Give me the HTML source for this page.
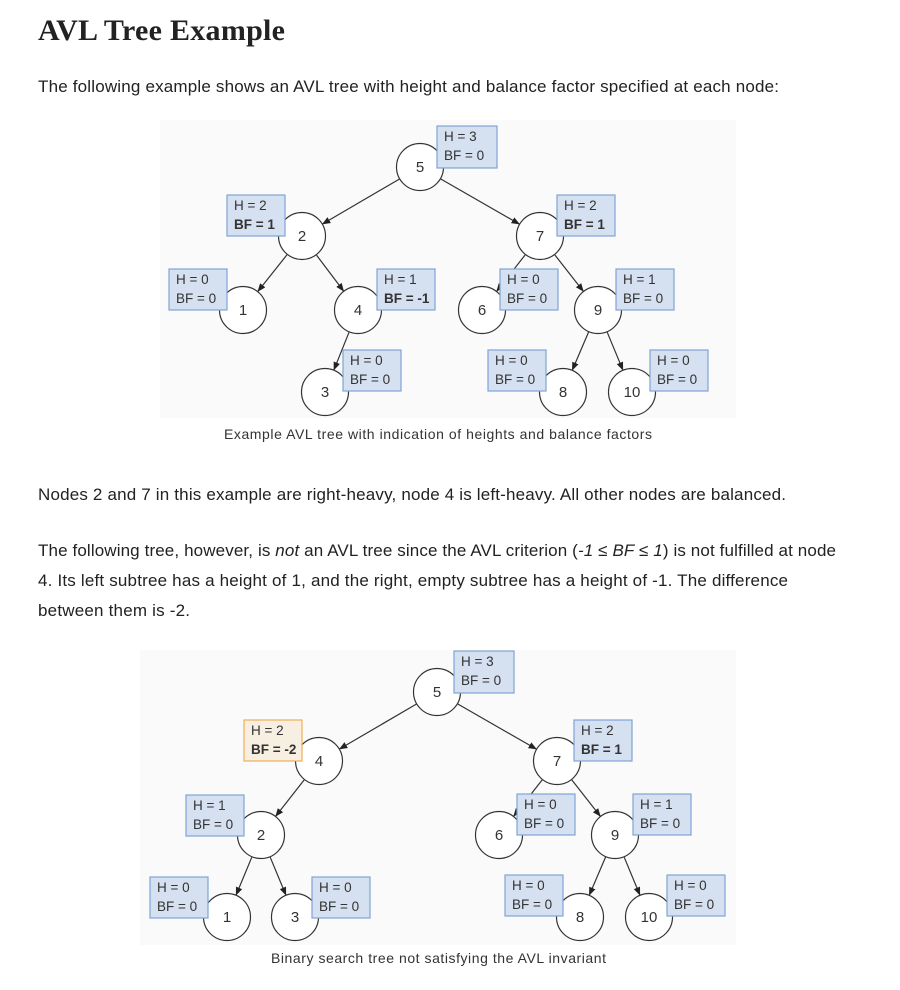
<!DOCTYPE html>
<html><head><meta charset="utf-8"><style>
html,body{margin:0;padding:0;background:#fff;}
svg{display:block;}
.t{font-family:"Liberation Sans",sans-serif;fill:#222;font-size:17px;}
.b{font-family:"Liberation Sans",sans-serif;fill:#333;font-size:13.5px;}
.cap{font-family:"Liberation Sans",sans-serif;fill:#333;font-size:14px;}
.n{font-family:"Liberation Sans",sans-serif;fill:#333;font-size:15px;text-anchor:middle;}
.e{stroke:#333;stroke-width:1.2;marker-end:url(#a);}
.c{fill:#fff;stroke:#333;stroke-width:1.2;}
.bx{fill:#d5e0f1;stroke:#7fa4d4;stroke-width:1.2;}
.ob{fill:#f7efe1;stroke:#f0ad55;stroke-width:1.2;}
</style></head><body>
<svg width="900" height="990" viewBox="0 0 900 990" xmlns="http://www.w3.org/2000/svg">
<defs><marker id="a" viewBox="0 0 10 10" refX="9" refY="5" markerWidth="7" markerHeight="7" orient="auto"><path d="M0,1 L10,5 L0,9 z" fill="#222"/></marker>
<g id="R">
<line class="e" x1="440.8" y1="179" x2="519.2" y2="224"/>
<line class="e" x1="525.2" y1="254.9" x2="496.8" y2="291.1"/>
<line class="e" x1="554.8" y1="254.9" x2="583.2" y2="291.1"/>
<line class="e" x1="588.6" y1="332" x2="572.4" y2="369.9"/>
<line class="e" x1="607.2" y1="332.2" x2="622.8" y2="369.8"/>
<circle class="c" cx="420" cy="167" r="23.5"/><text class="n" x="420" y="172">5</text>
<rect class="bx" x="437" y="126" width="60" height="42"/><text class="b" x="444" y="141">H = 3</text><text class="b" x="444" y="160">BF = 0</text>
<circle class="c" cx="540" cy="236" r="23.5"/><text class="n" x="540" y="241">7</text>
<rect class="bx" x="557" y="195" width="58" height="41"/><text class="b" x="564" y="210">H = 2</text><text class="b" x="564" y="229" font-weight="bold">BF = 1</text>
<circle class="c" cx="482" cy="310" r="23.5"/><text class="n" x="482" y="315">6</text>
<rect class="bx" x="500" y="269" width="58" height="41"/><text class="b" x="507" y="284">H = 0</text><text class="b" x="507" y="303">BF = 0</text>
<circle class="c" cx="598" cy="310" r="23.5"/><text class="n" x="598" y="315">9</text>
<rect class="bx" x="616" y="269" width="58" height="41"/><text class="b" x="623" y="284">H = 1</text><text class="b" x="623" y="303">BF = 0</text>
<circle class="c" cx="563" cy="392" r="23.5"/><text class="n" x="563" y="397">8</text>
<rect class="bx" x="488" y="350" width="58" height="41"/><text class="b" x="495" y="365">H = 0</text><text class="b" x="495" y="384">BF = 0</text>
<circle class="c" cx="632" cy="392" r="23.5"/><text class="n" x="632" y="397">10</text>
<rect class="bx" x="650" y="350" width="58" height="41"/><text class="b" x="657" y="365">H = 0</text><text class="b" x="657" y="384">BF = 0</text>
</g>
</defs>
<text x="38" y="40" font-family="Liberation Serif,serif" font-weight="bold" font-size="30" fill="#222" textLength="247">AVL Tree Example</text>
<text class="t" x="38" y="92" textLength="741">The following example shows an AVL tree with height and balance factor specified at each node:</text>

<rect x="160" y="120" width="576" height="298" fill="#fafafa"/>
<line class="e" x1="399.3" y1="179.1" x2="322.7" y2="223.9"/>
<line class="e" x1="287" y1="254.8" x2="258" y2="291.2"/>
<line class="e" x1="316.5" y1="255.1" x2="343.5" y2="290.9"/>
<line class="e" x1="349" y1="332.3" x2="334" y2="369.7"/>
<use href="#R"/>
<circle class="c" cx="302" cy="236" r="23.5"/><text class="n" x="302" y="241">2</text>
<rect class="bx" x="227" y="195" width="58" height="41"/><text class="b" x="234" y="210">H = 2</text><text class="b" x="234" y="229" font-weight="bold">BF = 1</text>
<circle class="c" cx="243" cy="310" r="23.5"/><text class="n" x="243" y="315">1</text>
<rect class="bx" x="169" y="269" width="58" height="41"/><text class="b" x="176" y="284">H = 0</text><text class="b" x="176" y="303">BF = 0</text>
<circle class="c" cx="358" cy="310" r="23.5"/><text class="n" x="358" y="315">4</text>
<rect class="bx" x="377" y="269" width="58" height="41"/><text class="b" x="384" y="284">H = 1</text><text class="b" x="384" y="303" font-weight="bold">BF = -1</text>
<circle class="c" cx="325" cy="392" r="23.5"/><text class="n" x="325" y="397">3</text>
<rect class="bx" x="343" y="350" width="58" height="41"/><text class="b" x="350" y="365">H = 0</text><text class="b" x="350" y="384">BF = 0</text>
<text class="cap" x="224" y="439" textLength="428">Example AVL tree with indication of heights and balance factors</text>

<text class="t" x="38" y="500" textLength="748">Nodes 2 and 7 in this example are right-heavy, node 4 is left-heavy. All other nodes are balanced.</text>
<text class="t" x="38" y="556" textLength="798">The following tree, however, is <tspan font-style="italic">not</tspan> an AVL tree since the AVL criterion (<tspan font-style="italic">-1 ≤ BF ≤ 1</tspan>) is not fulfilled at node</text>
<text class="t" x="38" y="586" textLength="750">4. Its left subtree has a height of 1, and the right, empty subtree has a height of -1. The difference</text>
<text class="t" x="38" y="616" textLength="152">between them is -2.</text>

<rect x="140" y="650" width="596" height="295" fill="#fafafa"/>
<line class="e" x1="416.3" y1="704.1" x2="339.7" y2="748.9"/>
<line class="e" x1="304.2" y1="779.9" x2="275.8" y2="816.1"/>
<line class="e" x1="251.8" y1="857.2" x2="236.2" y2="894.8"/>
<line class="e" x1="270.2" y1="857.2" x2="285.8" y2="894.8"/>
<use href="#R" transform="translate(17,525)"/>
<circle class="c" cx="319" cy="761" r="23.5"/><text class="n" x="319" y="766">4</text>
<rect class="ob" x="244" y="720" width="58" height="41"/><text class="b" x="251" y="735">H = 2</text><text class="b" x="251" y="754" font-weight="bold">BF = -2</text>
<circle class="c" cx="261" cy="835" r="23.5"/><text class="n" x="261" y="840">2</text>
<rect class="bx" x="186" y="795" width="58" height="41"/><text class="b" x="193" y="810">H = 1</text><text class="b" x="193" y="829">BF = 0</text>
<circle class="c" cx="227" cy="917" r="23.5"/><text class="n" x="227" y="922">1</text>
<rect class="bx" x="150" y="877" width="58" height="41"/><text class="b" x="157" y="892">H = 0</text><text class="b" x="157" y="911">BF = 0</text>
<circle class="c" cx="295" cy="917" r="23.5"/><text class="n" x="295" y="922">3</text>
<rect class="bx" x="312" y="877" width="58" height="41"/><text class="b" x="319" y="892">H = 0</text><text class="b" x="319" y="911">BF = 0</text>
<text class="cap" x="271" y="963" textLength="335">Binary search tree not satisfying the AVL invariant</text>
</svg>
</body></html>
